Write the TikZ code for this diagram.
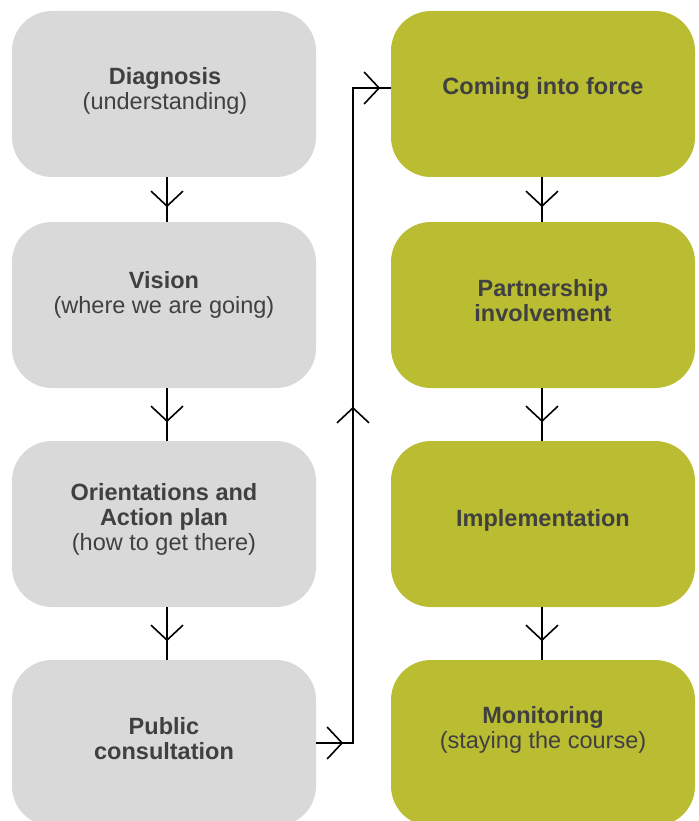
\documentclass[tikz,border=0pt]{standalone}
\usepackage{fontspec}
\setmainfont{Liberation Sans}
\usetikzlibrary{arrows.meta,decorations.markings}
\definecolor{boxgray}{RGB}{217,217,217}
\definecolor{boxolive}{RGB}{186,188,50}
\definecolor{txtgray}{RGB}{64,64,64}
\tikzset{
  stage/.style={rounded corners=40pt, minimum width=304pt, minimum height=166pt, inner sep=0pt, draw=none},
  greybox/.style={stage, fill=boxgray},
  olivebox/.style={stage, fill=boxolive},
  boxtext/.style={align=center, text=txtgray, font=\fontsize{23.5}{25}\selectfont, inner sep=0pt},
  link/.style={line width=1.6pt, draw=black},
  >={Straight Barb[length=15pt,width=32pt]},
  flowmark/.style={postaction={decorate}, decoration={markings, mark=at position #1 with {\arrow{>}}}}
}
\begin{document}
\begin{tikzpicture}[x=1pt,y=-1pt]
\useasboundingbox (0,0) rectangle (698,821);
\clip (0,0) rectangle (698,821);
% left column
\node[greybox] (d) at (164,94) {};
\node[greybox] (v) at (164,305) {};
\node[greybox] (o) at (164,524) {};
\node[greybox] (p) at (164,743) {};
% right column
\node[olivebox] (c) at (543,94) {};
\node[olivebox] (pi) at (543,305) {};
\node[olivebox] (im) at (543,524) {};
\node[olivebox] (m) at (543,743) {};
% texts
\node[boxtext] (dt) at (165,90.5) {\textbf{Diagnosis}\\(understanding)};
\node[boxtext] (vt) at (164,295) {\textbf{Vision}\\(where we are going)};
\node[boxtext] (ot) at (164,519) {\textbf{Orientations and}\\\textbf{Action plan}\\(how to get there)};
\node[boxtext] (pt) at (164,739) {\textbf{Public}\\\textbf{consultation}};
\node[boxtext] (ct) at (543,88) {\textbf{Coming into force}};
\node[boxtext] (pit) at (543,301) {\textbf{Partnership}\\\textbf{involvement}};
\node[boxtext] (imt) at (543,520) {\textbf{Implementation}};
\node[boxtext] (mt) at (543,730) {\textbf{Monitoring}\\(staying the course)};
% vertical connectors
\draw[link, flowmark=30pt] ([xshift=3pt]d.south) -- ([xshift=3pt]v.north);
\draw[link, flowmark=34pt] ([xshift=3pt]v.south) -- ([xshift=3pt]o.north);
\draw[link, flowmark=34pt] ([xshift=3pt]o.south) -- ([xshift=3pt]p.north);
\draw[link, flowmark=30pt] ([xshift=-1pt]c.south) -- ([xshift=-1pt]pi.north);
\draw[link, flowmark=34pt] ([xshift=-1pt]pi.south) -- ([xshift=-1pt]im.north);
\draw[link, flowmark=34pt] ([xshift=-1pt]im.south) -- ([xshift=-1pt]m.north);
% elbow connector
\coordinate (etop) at (353,88);
\draw[link, postaction={decorate}, decoration={markings,
    mark=at position 27pt with {\arrow{>}},
    mark=at position 373pt with {\arrow{>}},
    mark=at position 719pt with {\arrow{>}}}]
  (p.east) -| (etop) -- (etop -| c.west);
\end{tikzpicture}
\end{document}
